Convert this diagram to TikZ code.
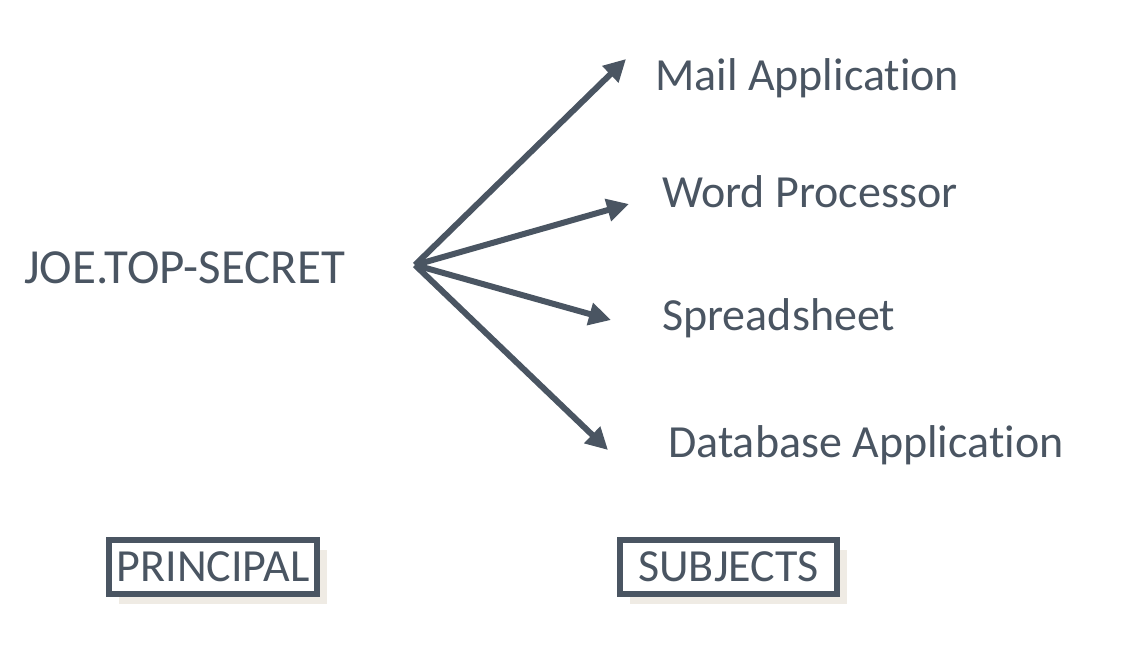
\documentclass[tikz,border=0pt]{standalone}
\usepackage{fontspec}
\setmainfont{Carlito}[Ligatures=NoCommon]
\usetikzlibrary{arrows.meta,shadows}
\definecolor{slate}{HTML}{4A5562}
\definecolor{beige}{HTML}{EFEBE4}
\tikzset{
  lbl/.style={anchor=base west,inner sep=0pt,text=slate,font=\fontsize{46}{52}\selectfont},
  arr/.style={draw=slate,line width=6pt,-{Triangle[length=22pt,width=22pt]}},
  tag/.style={draw=slate,line width=6pt,fill=white,text=slate,inner sep=0pt,
    minimum height=54pt,font=\fontsize{46}{50}\selectfont,
    drop shadow={fill=beige,opacity=1,shadow xshift=10pt,shadow yshift=-10pt}}
}
\begin{document}
\begin{tikzpicture}[x=1pt,y=-1pt]
\useasboundingbox (0,0) rectangle (1142,648);

\node[lbl,font=\fontsize{49}{55}\selectfont] (joe) at (24,283) {JOE.TOP-SECRET};
\node[lbl] (mail) at (655,90) {Mail Application};
\node[lbl] (word) at (662,207) {Word Processor};
\node[lbl] (sheet) at (662,330) {Spreadsheet};
\node[lbl] (db) at (668,457) {Database Application};

\coordinate (hub) at (415,265);
\coordinate (tmail) at (626,59);
\coordinate (tword) at (629,204);
\coordinate (tsheet) at (611,320);
\coordinate (tdb) at (608,450);

\path[arr] (hub) -- (tmail);
\path[arr] (hub) -- (tword);
\path[arr] (hub) -- (tsheet);
\path[arr] (hub) -- (tdb);

\node[tag,minimum width=208pt] (principal) at (213,567) {PRINCIPAL};
\node[tag,minimum width=217pt] (subjects) at (728.5,567) {SUBJECTS};
\end{tikzpicture}
\end{document}
